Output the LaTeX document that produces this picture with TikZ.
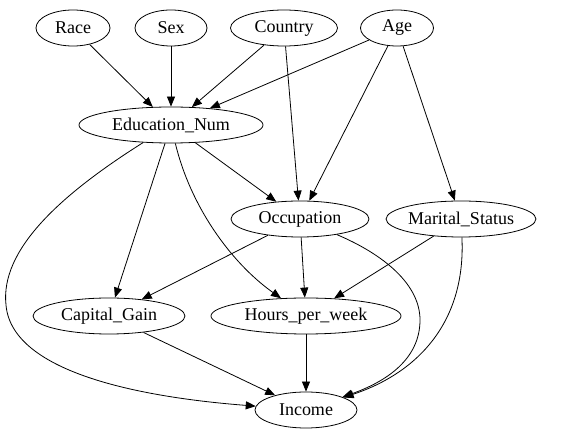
\documentclass[tikz,border=0pt]{standalone}
\usepackage{fontspec}
\newfontfamily\gvfont{Liberation Serif}
\usetikzlibrary{shapes.geometric,arrows.meta}

\begin{document}
\begin{tikzpicture}[x=1pt, y=-1pt,
    var/.style={draw, ellipse, line width=0.8pt, inner sep=0pt, minimum height=36pt, font=\gvfont\fontsize{18}{20}\selectfont},
    edge/.style={-{Triangle[length=10pt,width=8pt]}, line width=0.8pt}]

    % Frame
    \useasboundingbox[fill=white] (0,0) rectangle (566,443);

    % Top row
    \node[var, minimum width=74pt]  (race)    at (73,28)  {Race};
    \node[var, minimum width=72pt]  (sex)     at (171,28) {Sex};
    \node[var, minimum width=107pt] (country) at (284,28) {Country};
    \node[var, minimum width=73pt]  (age)     at (397,28) {Age};

    % Middle rows
    \node[var, minimum width=184pt] (edu)     at (171,125) {Education\_Num};
    \node[var, minimum width=138pt] (occ)     at (300,219) {Occupation};
    \node[var, minimum width=139pt] (marital) at (461,219) {Marital\_Status};
    \node[var, minimum width=152pt] (gain)    at (109,316) {Capital\_Gain};
    \node[var, minimum width=190pt] (hours)   at (306,316) {Hours\_per\_week};

    % Target
    \node[var, minimum width=102pt] (income)  at (306,410) {Income};

    % Straight edges
    \draw[edge] (race) -- (edu);
    \draw[edge] (sex) -- (edu);
    \draw[edge] (country) -- (edu);
    \draw[edge] (country) -- (occ);
    \draw[edge] (age) -- (edu);
    \draw[edge] (age) -- (occ);
    \draw[edge] (age) -- (marital);
    \draw[edge] (edu) -- (occ);
    \draw[edge] (edu) -- (gain);
    \draw[edge] (occ) -- (gain);
    \draw[edge] (occ) -- (hours);
    \draw[edge] (marital) -- (hours);
    \draw[edge] (gain) -- (income);
    \draw[edge] (hours) -- (income);

    % Curved edges
    \draw[edge] (edu) .. controls (60,195) and (0,250) .. (6,305)
        .. controls (12,375) and (150,398) .. (income);
    \draw[edge] (edu) .. controls (190,205) and (230,262) .. (hours);
    \draw[edge] (occ) .. controls (385,255) and (420,285) .. (420,320)
        .. controls (420,360) and (385,382) .. (income);
    \draw[edge] (marital) .. controls (466,320) and (420,372) .. (income);

\end{tikzpicture}
\end{document}
